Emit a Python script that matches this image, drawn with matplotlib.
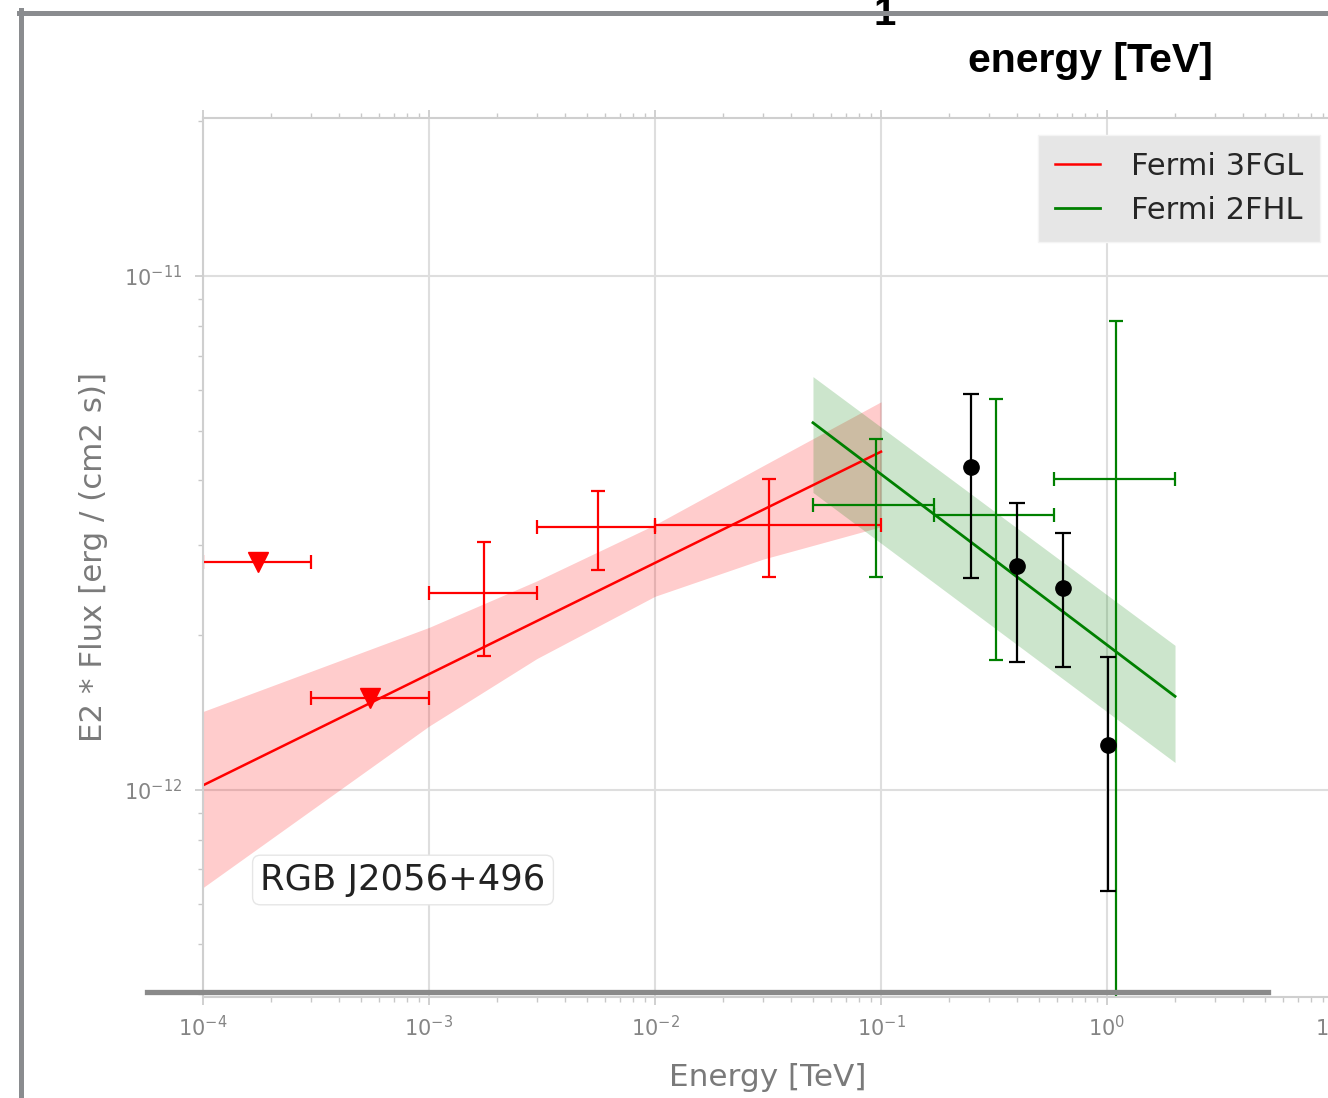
"""SED of RGB J2056+496: Fermi 3FGL / 2FHL spectra and points, inside an outer frame."""

import matplotlib

matplotlib.use("Agg")
import matplotlib.pyplot as plt
import numpy as np
from matplotlib.lines import Line2D

# ---- data ----
fgl3_fit_e = [1e-4, 1e-1]
fgl3_fit_f = [1.02e-12, 4.55e-12]
fgl3_band_e = [1e-4, 1e-3, 3e-3, 1e-2, 3e-2, 1e-1]
fgl3_band_hi = [1.42e-12, 2.07e-12, 2.55e-12, 3.28e-12, 4.27e-12, 5.69e-12]
fgl3_band_lo = [6.45e-13, 1.33e-12, 1.80e-12, 2.38e-12, 2.81e-12, 3.25e-12]

fgl3_e = [1.75e-4, 5.5e-4, 1.76e-3, 5.58e-3, 3.2e-2]
fgl3_e_lo = [1e-4, 3e-4, 1e-3, 3e-3, 1e-2]
fgl3_e_hi = [3e-4, 1e-3, 3e-3, 1e-2, 1e-1]
fgl3_f = [2.78e-12, 1.51e-12, 2.42e-12, 3.24e-12, 3.27e-12]
fgl3_f_lo = [np.nan, np.nan, 1.82e-12, 2.68e-12, 2.60e-12]
fgl3_f_hi = [np.nan, np.nan, 3.03e-12, 3.82e-12, 4.03e-12]
fgl3_ul = [True, True, False, False, False]

fhl2_fit_e = [0.05, 2.0]
fhl2_fit_f = [5.18e-12, 1.52e-12]
fhl2_band_e = [0.05, 2.0]
fhl2_band_hi = [6.37e-12, 1.91e-12]
fhl2_band_lo = [3.79e-12, 1.13e-12]

fhl2_e = [0.0946, 0.322, 1.096]
fhl2_e_lo = [0.05, 0.171, 0.585]
fhl2_e_hi = [0.171, 0.585, 2.0]
fhl2_f = [3.58e-12, 3.43e-12, 4.03e-12]
fhl2_f_lo = [2.60e-12, 1.79e-12, 1e-13]
fhl2_f_hi = [4.82e-12, 5.77e-12, 8.17e-12]

pts_e = [0.249, 0.399, 0.638, 1.01]
pts_f = [4.25e-12, 2.72e-12, 2.47e-12, 1.22e-12]
pts_f_lo = [2.58e-12, 1.77e-12, 1.73e-12, 6.34e-13]
pts_f_hi = [5.89e-12, 3.61e-12, 3.16e-12, 1.81e-12]

W, H = 1328, 1098
fig = plt.figure(figsize=(W / 100, H / 100), dpi=100)

# outer frame (gray left/top spine of the host plot)
frame_c = "#8a8c8f"
fig.add_artist(Line2D([21 / W, 21 / W], [0, 1 - 10 / H], color=frame_c, lw=3.6,
                      transform=fig.transFigure, zorder=6))
fig.add_artist(Line2D([18.5 / W, 1], [1 - 12.5 / H, 1 - 12.5 / H], color=frame_c, lw=3.6,
                      transform=fig.transFigure, zorder=6))
fig.text(885 / W, 1 - 25 / H, "1", ha="center", va="baseline", fontsize=29,
         fontweight="bold", family="Liberation Sans", color="black")
fig.text(1090 / W, 1 - 72 / H, "energy [TeV]", ha="center", va="baseline", fontsize=29.5,
         fontweight="bold", family="Liberation Sans", color="black")

# inner SED plot
ax = fig.add_axes([203 / W, (H - 997) / H, 1130 / W, (997 - 118) / H])
ax.set_xscale("log")
ax.set_yscale("log")
ax.set_xlim(1e-4, 1e1)
ax.set_ylim(3.95e-13, 2.03e-11)

ax.fill_between(fgl3_band_e, fgl3_band_lo, fgl3_band_hi, color="red", alpha=0.2, lw=0)
ax.fill_between(fhl2_band_e, fhl2_band_lo, fhl2_band_hi, color="green", alpha=0.2, lw=0)
l1, = ax.plot(fgl3_fit_e, fgl3_fit_f, color="red", lw=1.8, label="Fermi 3FGL")
l2, = ax.plot(fhl2_fit_e, fhl2_fit_f, color="green", lw=2.0, label="Fermi 2FHL")

e = np.array(fgl3_e)
f = np.array(fgl3_f)
xerr = [e - np.array(fgl3_e_lo), np.array(fgl3_e_hi) - e]
ul = np.array(fgl3_ul)
ax.errorbar(e[ul], f[ul], xerr=[xerr[0][ul], xerr[1][ul]], fmt="v", color="red",
            ms=15, elinewidth=1.6, capsize=5, capthick=1.6)
yerr = [f - np.array(fgl3_f_lo), np.array(fgl3_f_hi) - f]
ax.errorbar(e[~ul], f[~ul], xerr=[xerr[0][~ul], xerr[1][~ul]],
            yerr=[yerr[0][~ul], yerr[1][~ul]], fmt="none", ecolor="red",
            elinewidth=1.6, capsize=5, capthick=1.6)

e = np.array(fhl2_e)
f = np.array(fhl2_f)
ax.errorbar(e, f, xerr=[e - np.array(fhl2_e_lo), np.array(fhl2_e_hi) - e],
            yerr=[f - np.array(fhl2_f_lo), np.array(fhl2_f_hi) - f],
            fmt="none", ecolor="green", elinewidth=1.6, capsize=5, capthick=1.6)

f = np.array(pts_f)
ax.errorbar(pts_e, pts_f, yerr=[f - np.array(pts_f_lo), np.array(pts_f_hi) - f],
            fmt="o", color="black", ms=11, elinewidth=1.6, capsize=6, capthick=1.6,
            zorder=5)

ax.grid(True, which="major", color="#dedede", lw=1.5)
ax.set_axisbelow(True)
for s in ax.spines.values():
    s.set_color("#cfcfcf")
    s.set_linewidth(1.5)
ax.yaxis.set_minor_formatter(matplotlib.ticker.NullFormatter())
ax.tick_params(which="both", colors="#c8c8c8", labelcolor="#858585", labelsize=15)
ax.tick_params(axis="x", which="both", top=True, pad=7)
ax.tick_params(axis="y", which="both", pad=9)
ax.tick_params(which="major", length=6, width=1.2)
ax.tick_params(which="minor", length=3.5, width=1.0)

ax.set_xlabel("Energy [TeV]", fontsize=22.4, color="#7a7a7a")
ax.set_ylabel("E2 * Flux [erg / (cm2 s)]", fontsize=22.2, color="#7a7a7a")
ax.xaxis.set_label_coords(0.5, -0.075)
ax.yaxis.set_label_coords(-0.084, 0.5)

leg = ax.legend(handles=[l1, l2], loc="upper right",
                bbox_to_anchor=((1320 - 203) / 1130, 1 - (135 - 118) / 879),
                borderaxespad=0, fontsize=22, handlelength=1.5, handletextpad=1.0,
                borderpad=0.55, labelspacing=0.5, fancybox=False, framealpha=1,
                facecolor="#e6e6e6", edgecolor="#f4f4f4")
for t in leg.get_texts():
    t.set_color("#262626")

ax.text((403 - 203) / 1130, 1 - (880 - 118) / 879, "RGB J2056+496", transform=ax.transAxes,
        ha="center", va="center", fontsize=25.5, color="#222222",
        bbox=dict(boxstyle="round,pad=0.22", fc="white", ec="#e6e6e6"))

# dark bar overlaying the bottom of the inner plot
fig.add_artist(Line2D([147 / W, 1268 / W], [1 - 991.5 / H, 1 - 991.5 / H], color="#8a8a8a",
                      lw=3.8, transform=fig.transFigure, zorder=6))

fig.savefig("out.png", dpi=100)
